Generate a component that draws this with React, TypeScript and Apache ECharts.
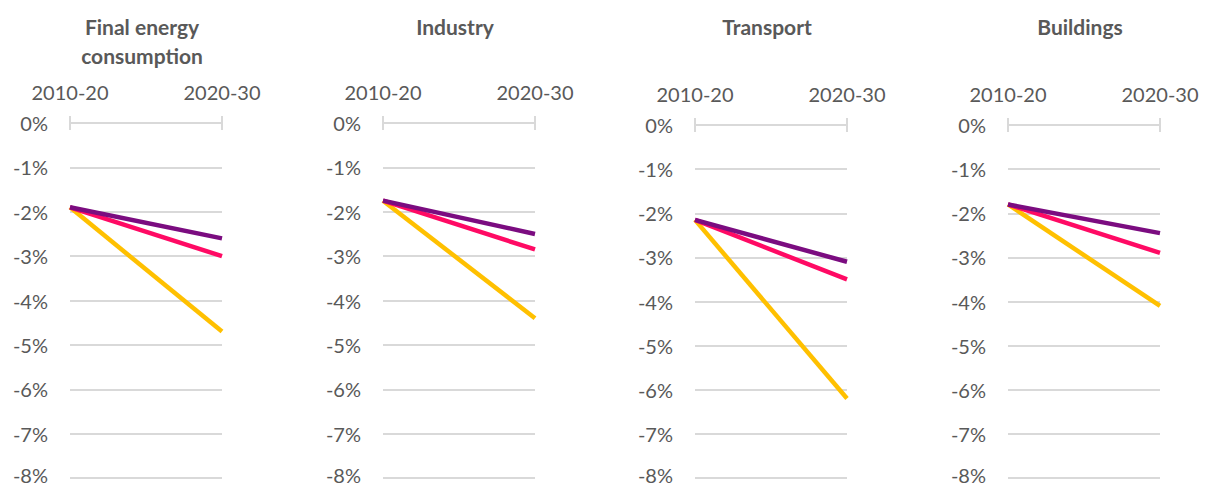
import React, { useEffect, useRef } from "react";
import * as echarts from "echarts";

const categories = ["2010-20", "2020-30"];
const panelTitles = ["Final energy\nconsumption", "Industry", "Transport", "Buildings"];
const stepsValues = [
  [-1.9, -2.6],
  [-1.75, -2.5],
  [-2.15, -3.1],
  [-1.8, -2.45],
];
const apsValues = [
  [-1.9, -3.0],
  [-1.75, -2.85],
  [-2.15, -3.5],
  [-1.8, -2.9],
];
const nzeValues = [
  [-1.9, -4.7],
  [-1.75, -4.4],
  [-2.15, -6.2],
  [-1.8, -4.1],
];
const yTicks = { min: -8, max: 0, interval: 1 };

const gridLefts = [70, 383, 695, 1008];
const gridTops = [123, 123, 125, 125];
const gridWidth = 152;
const gridHeight = 355;
const FONT = "Lato, 'Liberation Sans', sans-serif";
const TEXT = "#595959";
const GRIDC = "#D9D9D9";

export default function App() {
  const ref = useRef<HTMLDivElement>(null);
  useEffect(() => {
    if (!ref.current) return;
    const chart = echarts.init(ref.current, undefined, { renderer: "svg" });
    const grids: any[] = [];
    const xAxes: any[] = [];
    const yAxes: any[] = [];
    const titles: any[] = [];
    const series: any[] = [];
    panelTitles.forEach((t, i) => {
      grids.push({
        left: gridLefts[i],
        top: gridTops[i],
        width: gridWidth,
        height: gridHeight - (gridTops[i] - gridTops[0]),
        containLabel: false,
        outerBoundsMode: "none",
      });
      titles.push({
        text: t,
        left: gridLefts[i] + gridWidth / 2 - 4,
        top: 12,
        textAlign: "center",
        padding: 0,
        textStyle: { fontFamily: FONT, fontSize: 21, fontWeight: "bold", color: TEXT, lineHeight: 29 },
      });
      xAxes.push({
        type: "category",
        gridIndex: i,
        data: categories,
        boundaryGap: false,
        position: "top",
        axisLine: { show: true, lineStyle: { color: GRIDC, width: 2 } },
        axisTick: { show: true, length: 7, lineStyle: { color: GRIDC, width: 2 } },
        axisLabel: { fontFamily: FONT, fontSize: 20, color: TEXT, margin: 21 },
      });
      yAxes.push({
        type: "value",
        gridIndex: i,
        min: yTicks.min,
        max: yTicks.max,
        interval: yTicks.interval,
        axisLine: { show: false },
        axisTick: { show: false },
        axisLabel: {
          fontFamily: FONT,
          fontSize: 20,
          color: TEXT,
          margin: 22,
          formatter: (v: number) => (v === yTicks.min ? `{last|${v}%}` : `${v}%`),
          rich: {
            last: {
              fontFamily: FONT,
              fontSize: 20,
              color: TEXT,
              lineHeight: 16,
              padding: [0, 0, 6, 0],
            },
          },
        },
        splitLine: { show: true, lineStyle: { color: GRIDC, width: 2 } },
      });
    });
    panelTitles.forEach((_, i) => {
      xAxes.push({
        type: "category",
        gridIndex: i,
        data: categories,
        boundaryGap: false,
        position: "top",
        axisLine: { show: false },
        axisTick: { show: true, inside: true, length: 7, lineStyle: { color: GRIDC, width: 2 } },
        axisLabel: { show: false },
      });
    });
    const defs = [
      { name: "Net Zero", data: nzeValues, color: "#FFC000" },
      { name: "Announced Pledges", data: apsValues, color: "#FF0A64" },
      { name: "Stated Policies", data: stepsValues, color: "#7B0C80" },
    ];
    panelTitles.forEach((_, i) => {
      defs.forEach((d) => {
        series.push({
          type: "line",
          name: d.name,
          xAxisIndex: i,
          yAxisIndex: i,
          data: d.data[i],
          symbol: "none",
          lineStyle: { color: d.color, width: 4.5, cap: "butt" },
          silent: true,
        });
      });
    });
    chart.setOption({
      animation: false,
      backgroundColor: "#FFFFFF",
      title: titles,
      grid: grids,
      xAxis: xAxes,
      yAxis: yAxes,
      series,
    });
    return () => chart.dispose();
  }, []);
  return <div ref={ref} style={{ position: "fixed", left: 0, top: 0, width: 1205, height: 486 }} />;
}
